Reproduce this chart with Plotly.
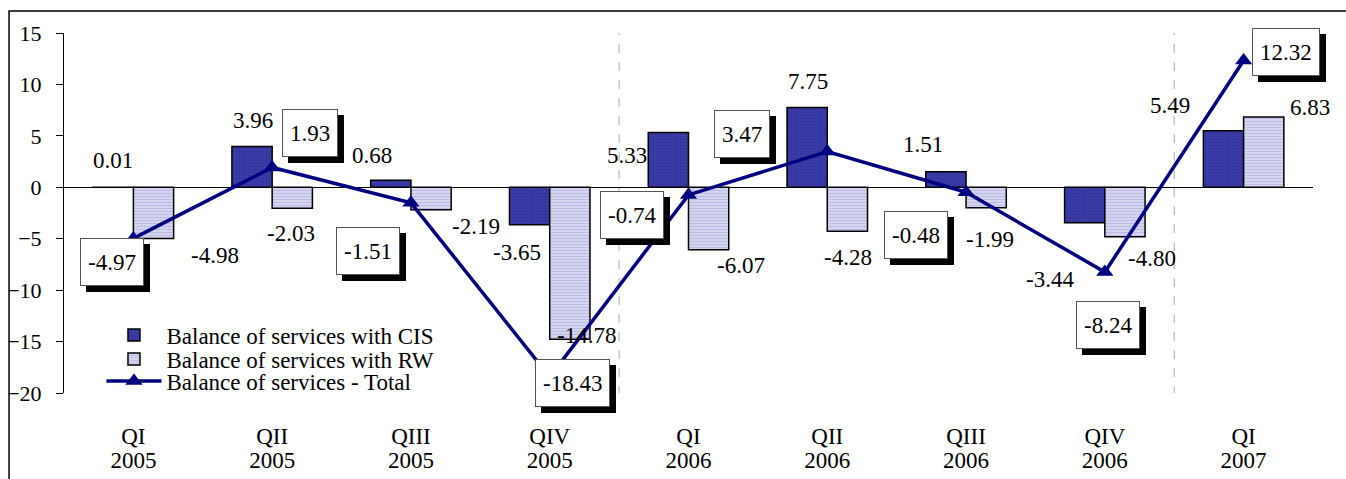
import plotly.graph_objects as go

# ---- data ----
quarters = ["QI", "QII", "QIII", "QIV", "QI", "QII", "QIII", "QIV", "QI"]
years = ["2005", "2005", "2005", "2005", "2006", "2006", "2006", "2006", "2007"]
cis = [0.01, 3.96, 0.68, -3.65, 5.33, 7.75, 1.51, -3.44, 5.49]
rw = [-4.98, -2.03, -2.19, -14.78, -6.07, -4.28, -1.99, -4.80, 6.83]
total = [-4.97, 1.93, -1.51, -18.43, -0.74, 3.47, -0.48, -8.24, 12.32]
ytick_vals = [-20, -15, -10, -5, 0, 5, 10, 15]

# ---- label placement (pixel offsets, style only) ----
cis_dx = [-20, -19, -39, -33, -62, -19, -43, -55, -74]
cis_dy = [27, 26, 25, -28, -23, 26, 27, -57, 25]
rw_dx = [82, 19, 65, 37, 52, 21, 24, 47, 66]
rw_dy = [-17, -25, -17, 4, -16, -26, -32, -22, 10]
tot_dx = [-21, 38, -43, 23, -57, -85, -50, 3, 42]
tot_dy = [-24, 34, -48, -6, -20, 18, -43, -53, 9]

FONT = "Liberation Serif"
FS = 23
NAVY = "#000080"

xs = list(range(len(quarters)))

fig = go.Figure()
fig.add_trace(go.Bar(
    x=xs, y=cis, name="Balance of services with CIS", legend="legend",
    marker=dict(color="#36369e", line=dict(color="black", width=1.5),
                pattern=dict(shape=".", fgcolor="#24248a", bgcolor="#3c3ca8", size=3, solidity=0.35)),
))
fig.add_trace(go.Bar(
    x=xs, y=rw, name="Balance of services with RW", legend="legend2",
    marker=dict(color="#c0c0e8", line=dict(color="black", width=1.5),
                pattern=dict(shape="-", fgcolor="#9a9ad8", bgcolor="#dedef4", size=3, solidity=0.5)),
))
fig.add_trace(go.Scatter(
    x=xs, y=total, name="Balance of services - Total", mode="lines+markers", legend="legend3",
    line=dict(color=NAVY, width=3.5),
    marker=dict(symbol="triangle-up", size=15, color=NAVY),
))
# carrier for the second (year) row of category labels
fig.add_trace(go.Scatter(x=xs, y=[None] * len(xs), xaxis="x2", showlegend=False,
                         hoverinfo="skip", mode="markers"))

ann = []
for i in xs:
    ann.append(dict(x=i, y=cis[i], text=f"{cis[i]:.2f}", showarrow=False,
                    xshift=cis_dx[i], yshift=cis_dy[i], font=dict(family=FONT, size=FS, color="black")))
    ann.append(dict(x=i, y=rw[i], text=f"{rw[i]:.2f}", showarrow=False,
                    xshift=rw_dx[i], yshift=rw_dy[i], font=dict(family=FONT, size=FS, color="black")))
for i in xs:
    # shadow
    ann.append(dict(x=i, y=total[i], text=f"{total[i]:.2f}", showarrow=False,
                    xshift=tot_dx[i] + 6, yshift=tot_dy[i] - 6, height=32, borderpad=7,
                    bgcolor="black", bordercolor="black", borderwidth=1,
                    font=dict(family=FONT, size=FS, color="black")))
    ann.append(dict(x=i, y=total[i], text=f"{total[i]:.2f}", showarrow=False,
                    xshift=tot_dx[i], yshift=tot_dy[i], height=32, borderpad=7,
                    bgcolor="white", bordercolor="#555555", borderwidth=1,
                    font=dict(family=FONT, size=FS, color="black")))

# partially visible unit caption at top
ann.append(dict(xref="paper", yref="paper", x=0.871, y=1.097, text="(million US dollars)",
                showarrow=False, yanchor="bottom", xanchor="center",
                font=dict(family=FONT, size=FS, color="black")))
fig.update_layout(annotations=ann)

shapes = []
for xv in [3.5, 7.5]:
    shapes.append(dict(type="line", xref="x", yref="y", x0=xv, x1=xv, y0=-20.2, y1=15,
                       line=dict(color="#aaaaaa", width=1, dash="dash"), layer="below"))
# outer frame
shapes.append(dict(type="rect", xref="paper", yref="paper", x0=-0.044, x1=1.0275, y0=-0.3, y1=1.061,
                   line=dict(color="black", width=1.5), fillcolor="rgba(0,0,0,0)"))
fig.update_layout(shapes=shapes)

leg_common = dict(x=0.03, xanchor="left", yanchor="middle", bgcolor="rgba(0,0,0,0)",
                  font=dict(family=FONT, size=FS, color="black"), itemwidth=55)

fig.update_layout(
    width=1346, height=479,
    margin=dict(l=64, r=33, t=33, b=86, autoexpand=False),
    paper_bgcolor="white", plot_bgcolor="white",
    barmode="group", bargap=0.42, bargroupgap=0,
    font=dict(family=FONT, size=FS, color="black"),
    showlegend=True,
    legend=dict(y=0.161, **leg_common),
    legend2=dict(y=0.094, **leg_common),
    legend3=dict(y=0.033, **leg_common),
    xaxis=dict(range=[-0.5, 8.5], tickvals=xs, ticktext=quarters, showgrid=False,
               showline=False, zeroline=False, ticks="", ticklabelstandoff=27, automargin=False,
               tickfont=dict(family=FONT, size=FS, color="black")),
    xaxis2=dict(range=[-0.5, 8.5], tickvals=xs, ticktext=years, showgrid=False, overlaying="x",
                side="bottom", anchor="y", showline=False, zeroline=False, ticks="",
                ticklabelstandoff=51, automargin=False,
                tickfont=dict(family=FONT, size=FS, color="black")),
    yaxis=dict(range=[-20, 15], tickvals=ytick_vals, showgrid=False, showline=True,
               linecolor="black", linewidth=1, ticks="outside", ticklen=7, tickcolor="black",
               zeroline=True, zerolinecolor="black", zerolinewidth=1, ticklabelstandoff=10,
               automargin=False, tickfont=dict(family=FONT, size=22, color="black")),
)

fig.write_html("out.html")
